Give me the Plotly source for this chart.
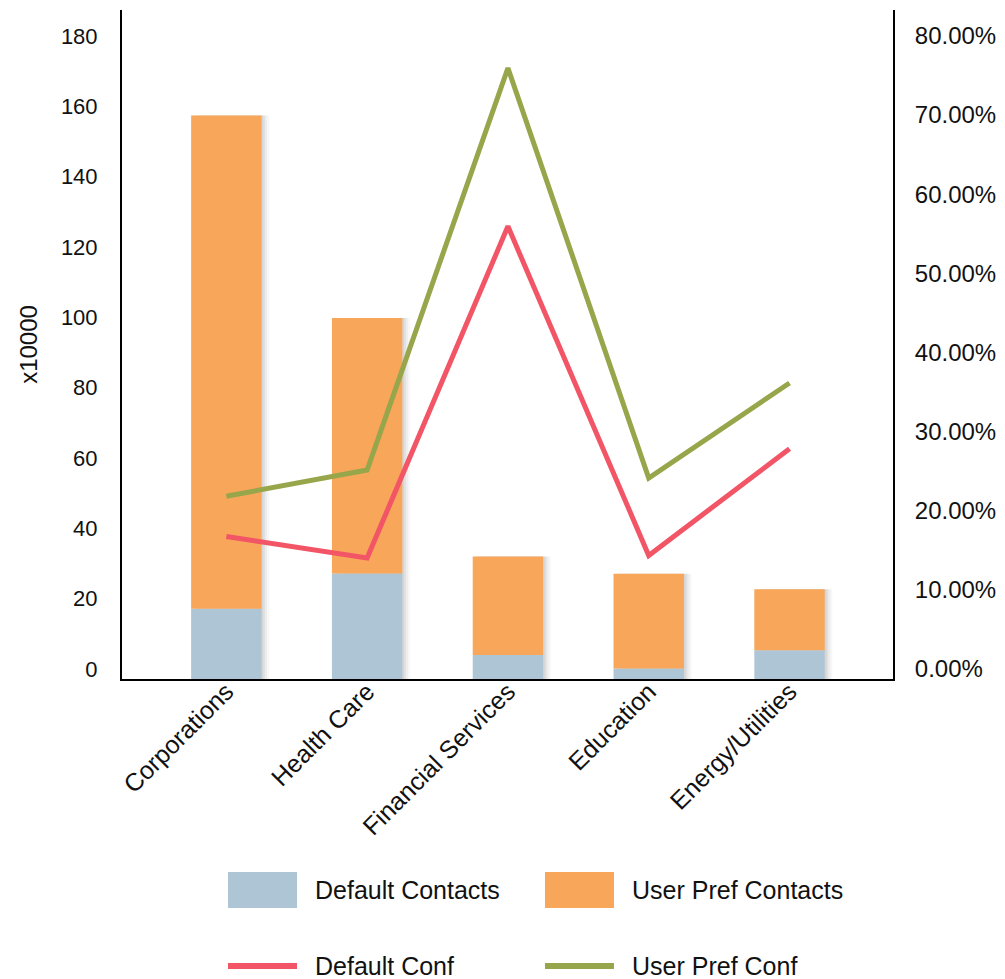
import plotly.graph_objects as go

# Contacts (in units of 10,000) and confidence rates by sector
categories = ["Corporations", "Health Care", "Financial Services", "Education", "Energy/Utilities"]
default_contacts = [20, 30, 6.8, 3.0, 8.2]
user_pref_contacts = [140.2, 72.6, 28.0, 26.9, 17.3]
default_conf = [18.0, 15.3, 57.2, 15.6, 29.1]
user_pref_conf = [23.1, 26.4, 77.2, 25.4, 37.4]

pct_ticks = [0, 10, 20, 30, 40, 50, 60, 70, 80]
pct_labels = [f"{v:.2f}%" for v in pct_ticks]
count_ticks = [0, 20, 40, 60, 80, 100, 120, 140, 160, 180]

BLUE = "#AEC5D6"
ORANGE = "#F7A65A"
RED = "#F25566"
GREEN = "#97A64A"
TEXT = "#111111"
FONT = "Liberation Sans, Arial, sans-serif"

BAR_W = 0.5
totals = [d + u for d, u in zip(default_contacts, user_pref_contacts)]

fig = go.Figure()
# soft drop shadow behind each stacked bar
for dx, alpha in [(0.012, 0.05), (0.025, 0.05), (0.04, 0.04), (0.055, 0.03)]:
    fig.add_trace(go.Bar(x=categories, y=totals, base=0, width=BAR_W,
                         offset=-BAR_W / 2 + dx,
                         marker=dict(color=f"rgba(0,0,0,{alpha})", line=dict(width=0)),
                         hoverinfo="skip", showlegend=False))
fig.add_trace(go.Bar(x=categories, y=default_contacts, base=0, name="Default Contacts",
                     marker=dict(color=BLUE, line=dict(width=0)), width=BAR_W,
                     offset=-BAR_W / 2, showlegend=False))
fig.add_trace(go.Bar(x=categories, y=user_pref_contacts, base=default_contacts,
                     name="User Pref Contacts",
                     marker=dict(color=ORANGE, line=dict(width=0)), width=BAR_W,
                     offset=-BAR_W / 2, showlegend=False))
fig.add_trace(go.Scatter(x=categories, y=default_conf, name="Default Conf", yaxis="y2",
                         mode="lines", line=dict(color=RED, width=5), showlegend=False))
fig.add_trace(go.Scatter(x=categories, y=user_pref_conf, name="User Pref Conf", yaxis="y2",
                         mode="lines", line=dict(color=GREEN, width=5), showlegend=False))

ymax = 190.2
fig.update_layout(
    width=1005, height=979,
    margin=dict(l=122, r=112, t=10, b=300),
    paper_bgcolor="white", plot_bgcolor="white",
    barmode="overlay",
    font=dict(family=FONT, size=20, color=TEXT),
    xaxis=dict(
        range=[-0.741, 4.735], showgrid=False, zeroline=False, automargin=False,
        showline=True, linecolor="black", linewidth=2,
        tickangle=-45, ticks="", tickfont=dict(size=25),
        ticklabelstandoff=-14,
    ),
    yaxis=dict(
        range=[0, ymax], tickvals=count_ticks, showgrid=False, zeroline=False,
        automargin=False,
        showline=True, linecolor="black", linewidth=2, ticks="",
        ticklabelstandoff=18, ticklabelshift=-10,
        title=dict(text="x10000", font=dict(size=24), standoff=16),
        tickfont=dict(size=22),
    ),
    yaxis2=dict(
        range=[0, ymax * 80 / 180], overlaying="y", side="right", automargin=False,
        tickvals=pct_ticks, ticktext=pct_labels, showgrid=False, zeroline=False,
        showline=True, linecolor="black", linewidth=2, ticks="",
        ticklabelstandoff=15, ticklabelshift=-10, tickfont=dict(size=24),
    ),
)

# Legend drawn below the plot: swatches and labels in paper coordinates
legend_items = [
    ("Default Contacts", BLUE, "box", 0.1375, -0.3154),
    ("User Pref Contacts", ORANGE, "box", 0.5486, -0.3154),
    ("Default Conf", RED, "line", 0.1375, -0.429),
    ("User Pref Conf", GREEN, "line", 0.5486, -0.429),
]
sw_w = 0.0895
for label, color, kind, x0, yc in legend_items:
    if kind == "box":
        fig.add_shape(type="rect", xref="paper", yref="paper",
                      x0=x0, x1=x0 + sw_w, y0=yc - 0.027, y1=yc + 0.027,
                      fillcolor=color, line=dict(width=0))
    else:
        fig.add_shape(type="line", xref="paper", yref="paper",
                      x0=x0, x1=x0 + sw_w, y0=yc, y1=yc,
                      line=dict(color=color, width=6))
    fig.add_annotation(text=label, xref="paper", yref="paper",
                       x=x0 + sw_w + 0.021, y=yc, xanchor="left", yanchor="middle",
                       showarrow=False, font=dict(size=25, color=TEXT))

fig.write_html("out.html")
